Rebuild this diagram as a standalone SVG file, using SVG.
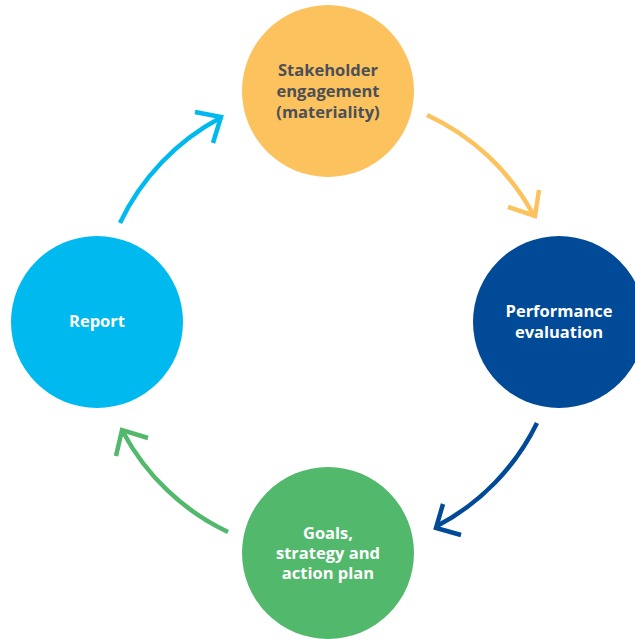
<svg xmlns="http://www.w3.org/2000/svg" width="635" height="639" viewBox="0 0 635 639">
<style>
.lbl{font-family:"Open Sans","Noto Sans",sans-serif;font-weight:700;font-size:16.5px;text-anchor:middle}
.w{fill:#ffffff}
.d{fill:#4b4f56}
.c{fill:none;stroke-width:4.5;stroke-linecap:butt;stroke-linejoin:miter}
</style>
<rect width="635" height="639" fill="#ffffff"/>
<g id="connectors">
<g stroke="#fbc25e" class="c"><path class="c" d="M427,115 A231,231 0 0 1 533,214"/><polyline class="c" points="508,207 535,216 539,190"/></g>
<g stroke="#004a97" class="c"><path class="c" d="M537,423 A231,231 0 0 1 437,526"/><polyline class="c" points="443,504 436,528 461,535"/></g>
<g stroke="#52b96c" class="c"><path class="c" d="M228,532 A231,231 0 0 1 123,432"/><polyline class="c" points="148,438 122,430 116,456"/></g>
<g stroke="#00b9ee" class="c"><path class="c" d="M120,223 A231,231 0 0 1 220,118"/><polyline class="c" points="195,112 221,117 213,143"/></g>
</g>
<g id="stakeholder">
<circle cx="328" cy="91" r="86" fill="#fbc25e"/>
<text class="lbl d" x="328" y="76">Stakeholder</text>
<text class="lbl d" x="328" y="97">engagement</text>
<text class="lbl d" x="328" y="118">(materiality)</text>
</g>
<g id="performance">
<circle cx="559" cy="322" r="86" fill="#004a97"/>
<text class="lbl w" x="559" y="317">Performance</text>
<text class="lbl w" x="559" y="338">evaluation</text>
</g>
<g id="goals">
<circle cx="328" cy="553" r="86" fill="#52b96c"/>
<text class="lbl w" x="328" y="539">Goals,</text>
<text class="lbl w" x="328" y="559">strategy and</text>
<text class="lbl w" x="328" y="579">action plan</text>
</g>
<g id="report">
<circle cx="97" cy="322" r="86" fill="#00b9ee"/>
<text class="lbl w" x="97" y="327">Report</text>
</g>
</svg>
